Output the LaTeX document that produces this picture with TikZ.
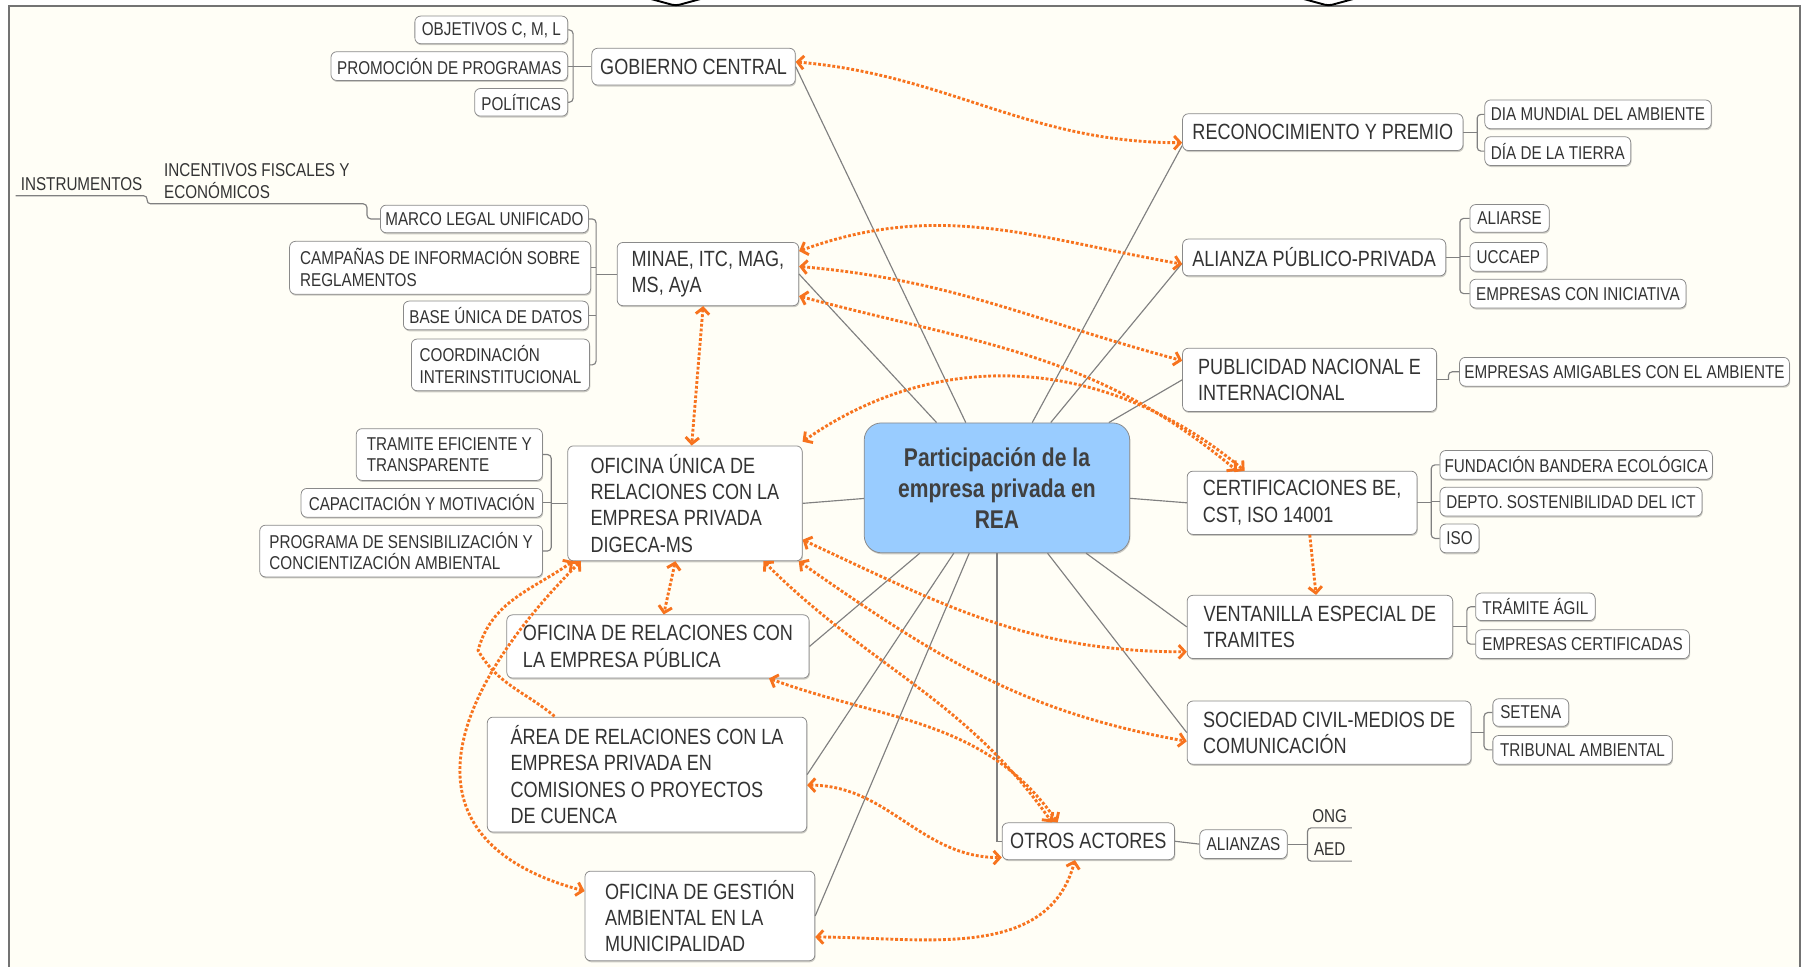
\documentclass[tikz,border=0pt]{standalone}
\usepackage{fontspec}
\setmainfont{Liberation Sans}[FakeStretch=0.82]
\usetikzlibrary{arrows.meta,shadows}

\definecolor{paper}{HTML}{FFFEF6}
\definecolor{ink}{HTML}{333333}
\definecolor{edge}{HTML}{8A8A8A}
\definecolor{relc}{HTML}{F7731E}
\definecolor{corefill}{HTML}{99CCFF}

\tikzset{
  sz/.style 2 args={minimum width=#1*0.6pt,minimum height=#2*0.6pt},
  lvone/.style={draw=edge,fill=white,rounded corners=3pt,align=left,inner sep=0pt,
    font=\fontsize{11.5}{13.7}\selectfont,
    drop shadow={shadow xshift=0.4pt,shadow yshift=-0.8pt,fill=black,opacity=0.2}},
  lvtwo/.style={lvone,font=\fontsize{9.7}{11.4}\selectfont},
  ul/.style={inner sep=0pt,align=left,font=\fontsize{9.7}{11.4}\selectfont},
  core/.style={draw=edge,fill=corefill,rounded corners=9pt,align=center,inner sep=0pt,
    text=black!75,font=\bfseries\fontsize{13.4}{16.2}\selectfont,
    drop shadow={shadow xshift=0.4pt,shadow yshift=-0.8pt,fill=black,opacity=0.2}},
  spoke/.style={draw=black!50,line width=0.6pt},
  branch/.style={draw=black!50,line width=0.6pt,rounded corners=2pt},
  rel/.style={draw=relc,line width=1.5pt,densely dotted,<->,
    >={Straight Barb[length=3.2pt,width=7pt]}}
}

\begin{document}
\begin{tikzpicture}[x=0.6pt,y=0.6pt,every node/.style={text=ink}]

\useasboundingbox (0,0) rectangle (1568,-841);
\fill[white] (0,0) rectangle (1568,-841);
\fill[paper] (8,-5) rectangle (1566,-841);
\draw[black!55,line width=1.2pt] (8,-841) -- (8,-5) -- (1566,-5) -- (1566,-841);
\draw[line width=1pt,rounded corners=2pt] (566,1) -- (588,-5) -- (610,1);
\draw[line width=1pt,rounded corners=2pt] (1134,1) -- (1156,-5) -- (1178,1);

\node[core,sz={231}{113}] (core) at (867.5,-424.5) {Participación de la\\empresa privada en\\REA};

\node[lvone,sz={177}{32}] (gob) at (603.5,-58) {GOBIERNO CENTRAL};
\node[lvone,sz={158}{55}] (minae) at (616,-238.5) {MINAE, ITC, MAG,\\MS, AyA};
\node[lvone,sz={204}{100}] (unica) at (596,-438) {OFICINA ÚNICA DE\\RELACIONES CON LA\\EMPRESA PRIVADA\\DIGECA-MS};
\node[lvone,sz={263}{55}] (pub) at (572.5,-562.5) {OFICINA DE RELACIONES CON\\LA EMPRESA PÚBLICA};
\node[lvone,sz={278}{100}] (area) at (563,-674) {ÁREA DE RELACIONES CON LA\\EMPRESA PRIVADA EN\\COMISIONES O PROYECTOS\\DE CUENCA};
\node[lvone,sz={200}{78}] (gest) at (609,-797) {OFICINA DE GESTIÓN\\AMBIENTAL EN LA\\MUNICIPALIDAD};

\node[lvone,sz={244}{32}] (reco) at (1151,-115) {RECONOCIMIENTO Y PREMIO};
\node[lvone,sz={229}{32}] (alianza) at (1143.5,-224) {ALIANZA PÚBLICO-PRIVADA};
\node[lvone,sz={221}{55}] (publi) at (1139.5,-330.5) {PUBLICIDAD NACIONAL E\\INTERNACIONAL};
\node[lvone,sz={200}{55}] (cert) at (1133,-437.5) {CERTIFICACIONES BE,\\CST, ISO 14001};
\node[lvone,sz={231}{55}] (vent) at (1148.5,-545.5) {VENTANILLA ESPECIAL DE\\TRAMITES};
\node[lvone,sz={247}{55}] (soc) at (1156.5,-637.5) {SOCIEDAD CIVIL-MEDIOS DE\\COMUNICACIÓN};
\node[lvone,sz={150}{32}] (otros) at (947,-732) {OTROS ACTORES};

\node[lvtwo,sz={133}{24}] (obj) at (427.5,-26) {OBJETIVOS C, M, L};
\node[lvtwo,sz={206}{25}] (prom) at (391,-57.5) {PROMOCIÓN DE PROGRAMAS};
\node[lvtwo,sz={81}{24}] (pol) at (453.5,-89) {POLÍTICAS};
\node[lvtwo,sz={181}{24}] (marco) at (421.5,-190.5) {MARCO LEGAL UNIFICADO};
\node[lvtwo,sz={262}{46}] (camp) at (383,-233) {CAMPAÑAS DE INFORMACIÓN SOBRE\\REGLAMENTOS};
\node[lvtwo,sz={161}{25}] (base) at (431.5,-274.5) {BASE ÚNICA DE DATOS};
\node[lvtwo,sz={155}{45}] (coord) at (435.5,-317.5) {COORDINACIÓN\\INTERINSTITUCIONAL};
\node[lvtwo,sz={162}{45}] (tram) at (391,-395.5) {TRAMITE EFICIENTE Y\\TRANSPARENTE};
\node[lvtwo,sz={210}{25}] (capa) at (367,-437.5) {CAPACITACIÓN Y MOTIVACIÓN};
\node[lvtwo,sz={246}{45}] (prog) at (349,-479.5) {PROGRAMA DE SENSIBILIZACIÓN Y\\CONCIENTIZACIÓN AMBIENTAL};
\node[ul,sz={191}{39}] (incent) at (223.5,-157.5) {INCENTIVOS FISCALES Y\\ECONÓMICOS};
\node[ul,sz={114}{20}] (instr) at (71,-160) {INSTRUMENTOS};

\node[lvtwo,sz={197}{25}] (dia) at (1390.5,-99.5) {DIA MUNDIAL DEL AMBIENTE};
\node[lvtwo,sz={127}{25}] (tierra) at (1355.5,-131.5) {DÍA DE LA TIERRA};
\node[lvtwo,sz={69}{24}] (aliarse) at (1313.5,-190) {ALIARSE};
\node[lvtwo,sz={67}{25}] (uccaep) at (1312.5,-223.5) {UCCAEP};
\node[lvtwo,sz={188}{25}] (inic) at (1373,-255.5) {EMPRESAS CON INICIATIVA};
\node[lvtwo,sz={287}{25}] (amig) at (1413.5,-323.5) {EMPRESAS AMIGABLES CON EL AMBIENTE};
\node[lvtwo,sz={237}{25}] (fund) at (1371.5,-404.5) {FUNDACIÓN BANDERA ECOLÓGICA};
\node[lvtwo,sz={228}{25}] (depto) at (1367,-436.5) {DEPTO. SOSTENIBILIDAD DEL ICT};
\node[lvtwo,sz={34}{25}] (iso) at (1270,-468.5) {ISO};
\node[lvtwo,sz={104}{24}] (agil) at (1336,-528) {TRÁMITE ÁGIL};
\node[lvtwo,sz={186}{25}] (empcert) at (1377,-560.5) {EMPRESAS CERTIFICADAS};
\node[lvtwo,sz={66}{24}] (setena) at (1332,-620) {SETENA};
\node[lvtwo,sz={156}{25}] (tribunal) at (1377,-652.5) {TRIBUNAL AMBIENTAL};
\node[lvtwo,sz={76}{25}] (alianzas) at (1082,-734.5) {ALIANZAS};
\node[ul,sz={38}{20}] (ong) at (1157,-710) {ONG};
\node[ul,sz={38}{20}] (aed) at (1157,-739) {AED};

\coordinate (bendA) at (416,-566);

\draw[spoke] (core) -- (gob.east);
\draw[spoke] (core) -- (minae.east);
\draw[spoke] (core) -- (unica.east);
\draw[spoke] (core) -- (pub.east);
\draw[spoke] (core) -- (area.east);
\draw[spoke] (core) -- (gest.east);
\draw[spoke] (core.south) |- (otros.west);
\draw[spoke] (core) -- ([yshift=-7pt]reco.west);
\draw[spoke] (core) -- ([yshift=-3pt]alianza.west);
\draw[spoke] (core) -- (publi.west);
\draw[spoke] (core) -- (cert.west);
\draw[spoke] (core) -- (vent.west);
\draw[spoke] (core) -- (soc.west);

\draw[branch] (gob.west) -- ++(-16,0) coordinate (sgob);
\draw[branch] (obj.east) -| (sgob) |- (pol.east);
\draw[branch] (prom.east) -- (prom.east -| sgob);
\draw[branch] (minae.west) -- ++(-18,0) coordinate (sminae);
\draw[branch] (marco.east) -| (sminae) |- (coord.east);
\draw[branch] (camp.east) -- (camp.east -| sminae);
\draw[branch] (base.east) -- (base.east -| sminae);
\draw[branch] (instr.south west) -- (instr.south east) -- (incent.south west) -- (incent.south east) |- (marco.west);
\draw[branch] (unica.west) -- ++(-14,0) coordinate (sunica);
\draw[branch] (tram.east) -| (sunica) |- (prog.east);
\draw[branch] (capa.east) -- (capa.east -| sunica);
\draw[branch] (reco.east) -- ++(12,0) coordinate (sreco);
\draw[branch] (dia.west) -| (sreco) |- (tierra.west);
\draw[branch] (alianza.east) -- ++(12,0) coordinate (salianza);
\draw[branch] (aliarse.west) -| (salianza) |- (inic.west);
\draw[branch] (uccaep.west) -- (uccaep.west -| salianza);
\draw[branch] (publi.east) -- ++(10,0) coordinate (spubli);
\draw[branch] (amig.west) -| (spubli);
\draw[branch] (cert.east) -- ++(12,0) coordinate (scert);
\draw[branch] (fund.west) -| (scert) |- (iso.west);
\draw[branch] (depto.west) -- (depto.west -| scert);
\draw[branch] (vent.east) -- ++(12,0) coordinate (svent);
\draw[branch] (agil.west) -| (svent) |- (empcert.west);
\draw[branch] (soc.east) -- ++(11,0) coordinate (ssoc);
\draw[branch] (setena.west) -| (ssoc) |- (tribunal.west);
\draw[branch] (otros.east) -- (alianzas.west);
\draw[branch] (ong.south east) -- (ong.south west) -- (aed.south west) -- (aed.south east);
\draw[branch] (alianzas.east) -- (alianzas.east -| aed.south west);

\draw[rel] ([yshift=2.5pt]gob.east) to[out=-5,in=180] ([yshift=-5.5pt]reco.west);
\draw[rel] ([yshift=12pt]minae.east) to[out=20,in=170] ([yshift=-3.5pt]alianza.west);
\draw[rel] ([yshift=4pt]minae.east) to[out=-5,in=165] ([yshift=10pt]publi.west);
\draw[rel] ([yshift=-11.5pt]minae.east) to[out=-15,in=140] ([xshift=-34pt]cert.north);
\draw[rel] ([yshift=2pt]unica.north east) to[out=35,in=140] ([xshift=-30pt]cert.north);
\draw[rel] ([xshift=-2.5pt]minae.south) -- ([xshift=3.5pt]unica.north);
\draw[rel] ([xshift=-5pt]unica.south) -- ([xshift=3pt]pub.north);
\draw[rel] ([yshift=-19pt]unica.east) to[out=-25,in=180] ([yshift=-13pt]vent.west);
\draw[rel] ([xshift=-2pt]unica.south east) to[out=-35,in=170] ([yshift=-4.5pt]soc.west);
\draw[rel] ([xshift=41pt]unica.south) to[out=-45,in=125] ([xshift=-19pt]otros.north);
\draw[rel] ([xshift=58pt]pub.south) to[out=-20,in=125] ([xshift=-16pt]otros.north);
\draw[rel] ([yshift=-5.5pt]area.east) to[out=0,in=180] ([yshift=-8.5pt]otros.west);
\draw[rel] ([yshift=-11pt]gest.east) to[out=0,in=-105] ([xshift=-7pt]otros.south);
\draw[rel] ([xshift=7pt]unica.south west) to[out=-135,in=165,looseness=1.5] ([yshift=13pt]gest.west);
\draw[rel,<-] ([xshift=3pt]unica.south west) to[out=-145,in=75] (bendA) to[out=-60,in=140] ([xshift=-48pt]area.north);
\draw[rel,->] ([xshift=4pt]cert.south) -- ([xshift=-2pt]vent.north);

\end{tikzpicture}
\end{document}
